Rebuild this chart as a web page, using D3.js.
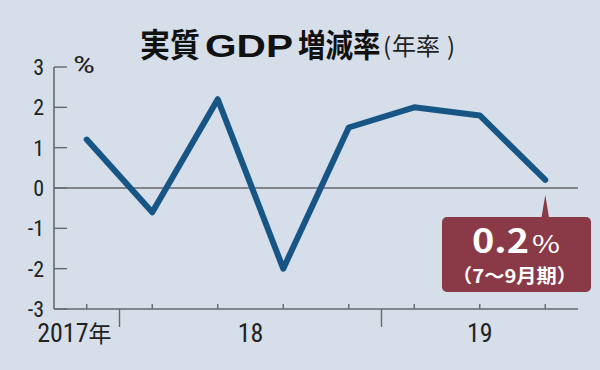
<!DOCTYPE html>
<html lang="ja">
<head>
<meta charset="UTF-8">
<title>実質GDP増減率</title>
<script src="https://d3js.org/d3.v7.min.js"></script>
<style>
  body { margin: 0; background: #d5dee9; }
  svg { display: block; }
  .num { font-family: "Liberation Sans Narrow", "Roboto Condensed", "Liberation Sans", Arial, sans-serif; fill: #222; }
  .jp { font-family: "Noto Sans CJK JP", "Noto Sans", sans-serif; }
  .lat { font-family: "Liberation Sans", Arial, sans-serif; }
</style>
</head>
<body>
<svg id="chart" width="600" height="370"></svg>
<script>
// データ：四半期ごとの実質GDP増減率（年率, %）
const quarters = ["2017Q4", "2018Q1", "2018Q2", "2018Q3", "2018Q4", "2019Q1", "2019Q2", "2019Q3"];
const values = [1.2, -0.6, 2.2, -2.0, 1.5, 2.0, 1.8, 0.2];
const yTicks = [3, 2, 1, 0, -1, -2, -3];
const years = [
  { label: "2017", suffix: "年", from: "2017Q4", to: "2017Q4" },
  { label: "18", suffix: "", from: "2018Q1", to: "2018Q4" },
  { label: "19", suffix: "", from: "2019Q1", to: "2019Q3" }
];
const note = { value: "0.2", unit: "%", period: "（7～9月期）" };

const svg = d3.select("#chart");
const plotL = 54, plotR = 578, plotT = 67, plotB = 309;

const x = d3.scalePoint().domain(quarters).range([plotL, plotR]).padding(0.5);
const y = d3.scaleLinear().domain([-3, 3]).range([plotB, plotT]);
const step = x.step();
const axisColor = "#66696d";

// 背景
svg.append("rect").attr("width", 600).attr("height", 370).attr("fill", "#d5dee9");

// タイトル
svg.append("text").attr("class", "jp")
  .attr("transform", "translate(140,57) scale(1,1.08)")
  .attr("font-size", 30).attr("font-weight", "bold").attr("fill", "#111")
  .text("実質");
svg.append("text").attr("class", "lat")
  .attr("transform", "translate(205,57) scale(1.27,1)")
  .attr("font-size", 32).attr("font-weight", "bold").attr("fill", "#111")
  .text("GDP");
svg.append("text").attr("class", "jp")
  .attr("transform", "translate(298,57) scale(0.95,1.08)")
  .attr("font-size", 29).attr("font-weight", "bold").attr("fill", "#111")
  .text("増減率");
const sub = svg.append("text").attr("class", "jp")
  .attr("y", 55).attr("font-size", 24).attr("fill", "#222");
sub.append("tspan").attr("x", 383).text("(");
sub.append("tspan").attr("x", 392).text("年率");
sub.append("tspan").attr("x", 447).text(")");

// Y軸
svg.append("line")
  .attr("x1", plotL).attr("x2", plotL).attr("y1", y(3)).attr("y2", y(-3))
  .attr("stroke", axisColor).attr("stroke-width", 1.6);
svg.selectAll(".ytick").data(yTicks).enter().append("line")
  .attr("x1", plotL).attr("x2", plotL + 13)
  .attr("y1", d => y(d)).attr("y2", d => y(d))
  .attr("stroke", axisColor).attr("stroke-width", 1.4);
svg.selectAll(".ylab").data(yTicks).enter().append("text")
  .attr("class", "num")
  .attr("x", 44).attr("y", d => y(d) + 8)
  .attr("text-anchor", "end").attr("font-size", 22)
  .text(d => d);
svg.append("text").attr("class", "num")
  .attr("x", 73).attr("y", y(3) + 6).attr("font-size", 23)
  .attr("textLength", 22).attr("lengthAdjust", "spacingAndGlyphs").text("%");

// ゼロ線
svg.append("line")
  .attr("x1", plotL).attr("x2", plotR).attr("y1", y(0)).attr("y2", y(0))
  .attr("stroke", axisColor).attr("stroke-width", 1.5);

// X軸
svg.append("line")
  .attr("x1", plotL).attr("x2", plotR).attr("y1", plotB).attr("y2", plotB)
  .attr("stroke", axisColor).attr("stroke-width", 1.6);
svg.selectAll(".qtick").data(quarters).enter().append("line")
  .attr("x1", d => x(d)).attr("x2", d => x(d))
  .attr("y1", plotB).attr("y2", plotB - 5)
  .attr("stroke", axisColor).attr("stroke-width", 1.4);
// 年の区切り
svg.selectAll(".ysep").data(years.slice(1)).enter().append("line")
  .attr("x1", d => x(d.from) - step / 2).attr("x2", d => x(d.from) - step / 2)
  .attr("y1", plotB).attr("y2", plotB + 18)
  .attr("stroke", axisColor).attr("stroke-width", 1.4);
svg.selectAll(".ylabel").data(years).enter().append("text")
  .attr("class", "num")
  .attr("font-size", 26)
  .attr("y", 342)
  .attr("text-anchor", (d, i) => i === 0 ? "end" : "middle")
  .attr("x", (d, i) => i === 0 ? x(d.to) + step / 2 - 8 : (x(d.from) + x(d.to)) / 2)
  .each(function(d) {
    const t = d3.select(this);
    t.append("tspan").text(d.label);
    if (d.suffix) t.append("tspan").attr("class", "jp").attr("font-size", 23).text(d.suffix);
  });

// 折れ線
const line = d3.line().x((d, i) => x(quarters[i])).y(d => y(d));
svg.append("path").datum(values)
  .attr("fill", "none").attr("stroke", "#175585").attr("stroke-width", 6)
  .attr("stroke-linejoin", "round").attr("stroke-linecap", "round")
  .attr("d", line);

// 注記（最新値）
const lastQ = quarters[quarters.length - 1];
const px = x(lastQ);
const box = { x: 442, y: 217, w: 149, h: 75 };
svg.append("path")
  .attr("d", `M${px - 4},${box.y + 2} L${px},${y(values[values.length - 1]) + 15} L${px + 4},${box.y + 2} Z`)
  .attr("fill", "#8a3a46");
svg.append("rect")
  .attr("x", box.x).attr("y", box.y).attr("width", box.w).attr("height", box.h)
  .attr("rx", 5).attr("fill", "#8a3a46");
svg.append("text").attr("class", "jp")
  .attr("x", 472).attr("y", 253)
  .attr("fill", "#fff").attr("font-weight", "bold").attr("font-size", 33)
  .attr("textLength", 57).attr("lengthAdjust", "spacingAndGlyphs")
  .text(note.value);
svg.append("text").attr("class", "jp")
  .attr("x", 532).attr("y", 253)
  .attr("fill", "#fff").attr("font-size", 24)
  .attr("textLength", 28).attr("lengthAdjust", "spacingAndGlyphs")
  .text(note.unit);
svg.append("text").attr("class", "jp")
  .attr("x", 452).attr("y", 283)
  .attr("fill", "#fff").attr("font-size", 19).attr("font-weight", "bold")
  .attr("textLength", 125).attr("lengthAdjust", "spacingAndGlyphs")
  .text(note.period);
</script>
</body>
</html>
